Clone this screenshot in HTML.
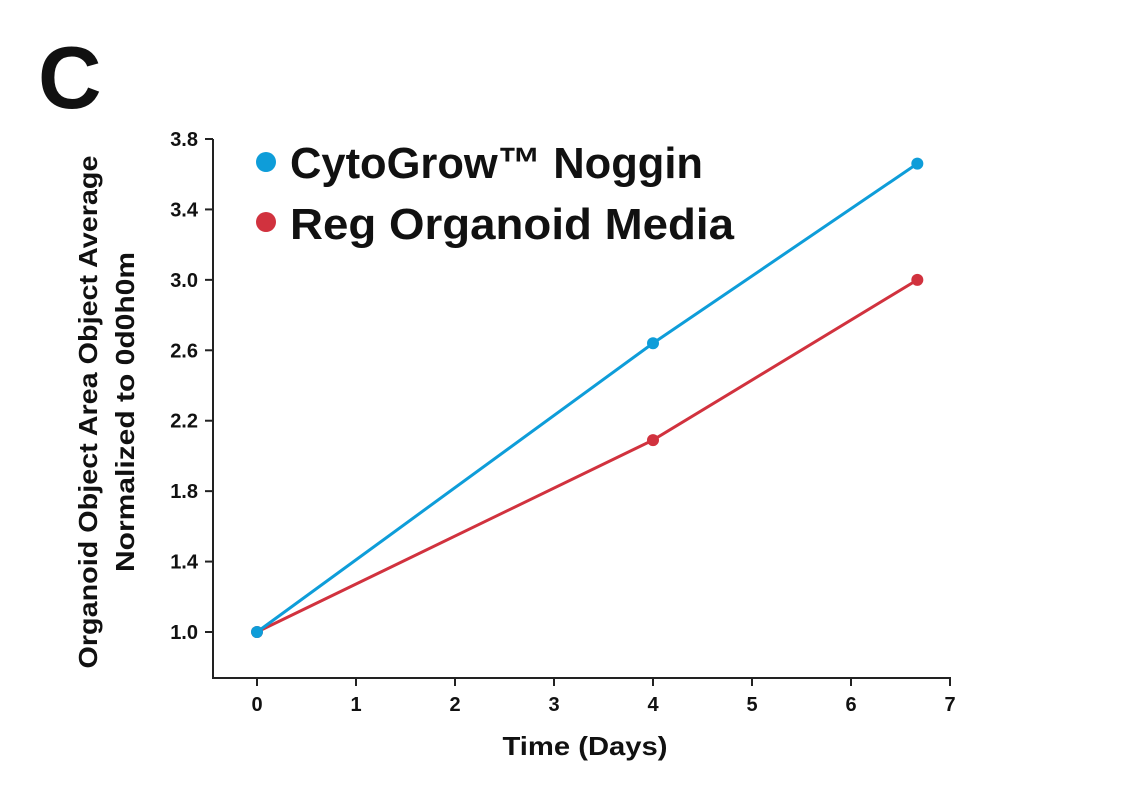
<!DOCTYPE html>
<html><head><meta charset="utf-8"><style>
body{margin:0;background:#fff;}
svg text{font-family:"Liberation Sans",sans-serif;font-weight:bold;fill:#111;}
</style></head><body>
<svg width="1140" height="800" viewBox="0 0 1140 800">
<text x="38" y="108" font-size="88">C</text>
<g id="axes"></g><g id="marks"></g>
<text x="585" y="755" font-size="26" text-anchor="middle" textLength="165" lengthAdjust="spacingAndGlyphs">Time (Days)</text>
<text transform="translate(97,412) rotate(-90)" font-size="26" text-anchor="middle"><tspan x="0" dy="0" textLength="513" lengthAdjust="spacingAndGlyphs">Organoid Object Area Object Average</tspan><tspan x="0" dy="37" textLength="320" lengthAdjust="spacingAndGlyphs">Normalized to 0d0h0m</tspan></text>
<circle cx="266" cy="162" r="10" fill="#0e9dd9"/>
<text x="290" y="178" font-size="44" textLength="413" lengthAdjust="spacingAndGlyphs">CytoGrow™ Noggin</text>
<circle cx="266" cy="222" r="10" fill="#d1323e"/>
<text x="290" y="239" font-size="44" textLength="444" lengthAdjust="spacingAndGlyphs">Reg Organoid Media</text>
</svg>
<script>
const days=[0,4,6.67];
const noggin=[1.0,2.64,3.66];
const reg=[1.0,2.09,3.0];
const xTicks=[0,1,2,3,4,5,6,7];
const yTicks=[1.0,1.4,1.8,2.2,2.6,3.0,3.4,3.8];
const NS="http://www.w3.org/2000/svg";
const X=d=>257+d*99;
const Y=v=>632-(v-1.0)*(632-139)/2.8;
function mk(t,a,p){const e=document.createElementNS(NS,t);for(const k in a)e.setAttribute(k,a[k]);p.appendChild(e);return e;}
const ax=document.getElementById('axes'),mg=document.getElementById('marks');
let l=mk('line',{x1:213,y1:139,x2:213,y2:678,stroke:'#222','stroke-width':2},ax);


l=mk('line',{x1:212,y1:678,x2:X(7)+1,y2:678,stroke:'#222','stroke-width':2},ax);


yTicks.forEach(v=>{
 const t=mk('line',{x1:205,y1:Y(v),x2:213,y2:Y(v),stroke:'#222','stroke-width':2},ax);
 
 
 const tx=mk('text',{x:198,y:Y(v)+7,'font-size':20,'text-anchor':'end'},ax);tx.textContent=v.toFixed(1);
 
 
});
xTicks.forEach(d=>{
 const t=mk('line',{x1:X(d),y1:678,x2:X(d),y2:686,stroke:'#222','stroke-width':2},ax);
 
 
 const tx=mk('text',{x:X(d),y:711,'font-size':20,'text-anchor':'middle'},ax);tx.textContent=d;
 
 
});
[[reg,'#d1323e','reg'],[noggin,'#0e9dd9','noggin']].forEach(([s,c,n])=>{
 const pl=mk('polyline',{points:s.map((v,i)=>X(days[i])+','+Y(v)).join(' '),fill:'none',stroke:c,'stroke-width':3},mg);
 
 
 s.forEach((v,i)=>{const p=mk('circle',{cx:X(days[i]),cy:Y(v),r:6,fill:c},mg);
 
 });
});
</script>
</body></html>
